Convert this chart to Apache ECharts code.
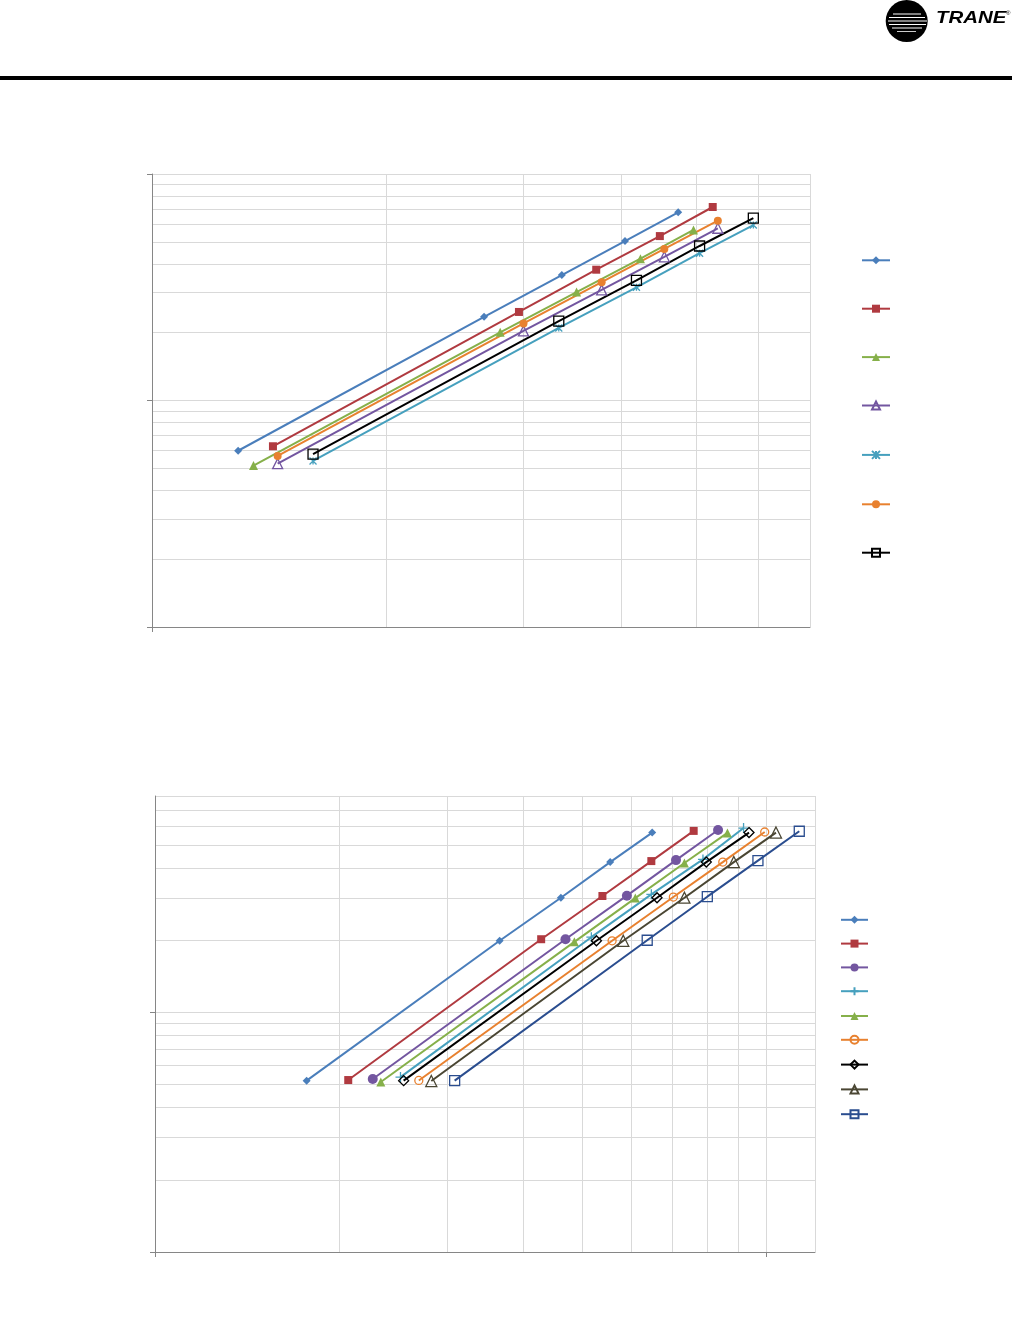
<!DOCTYPE html>
<html><head><meta charset="utf-8">
<script src="https://cdn.jsdelivr.net/npm/echarts@6/dist/echarts.min.js"></script>
<style>html,body{margin:0;padding:0;background:#fff}#c{width:1024px;height:1319px}</style>
</head><body><div id="c"></div>
<script>
// ---------- Chart 1 (top) data ----------
const c1Names = ['A1','A2','A3','A4','A5','A6','A7'];
const c1X1 = [129, 267, 336, 405, 474];   const c1Y1 = [6.0, 23.4, 35.8, 50.6, 67.7];
const c1X2 = [143, 296, 372, 449, 525];   const c1Y2 = [6.28, 24.6, 37.8, 53.2, 71.5];
const c1X3 = [135, 280, 351, 424, 496];   const c1Y3 = [5.16, 20.0, 30.1, 42.3, 56.6];
const c1X4 = [145, 300, 378, 455, 533];   const c1Y4 = [5.26, 20.3, 30.8, 43.1, 57.6];
const c1X5 = [161, 333, 419, 505, 592];   const c1Y5 = [5.41, 20.9, 31.6, 44.7, 59.5];
const c1X6 = [145, 300, 378, 455, 533];   const c1Y6 = [5.69, 21.9, 33.3, 46.7, 62.2];
const c1X7 = [161, 333, 419, 505, 592];   const c1Y7 = [5.80, 22.4, 33.9, 48.1, 63.9];
const c1XGrid = [100, 200, 300, 400, 500, 600, 700];
const c1YGrid = [1,2,3,4,5,6,7,8,9,10,20,30,40,50,60,70,80,90,100];
const c1XMajor = [100];
const c1YMajor = [1, 10, 100];

// ---------- Chart 2 (bottom) data ----------
const c2Names = ['B1','B2','B3','B4','B5','B6','B7','B8','B9'];
const c2X1 = [17.7, 36.6, 46.1, 55.5, 65.0];   const c2Y1 = [5.19, 19.9, 30.1, 42.4, 56.3];
const c2X2 = [20.7, 42.8, 53.9, 64.8, 76.0];   const c2Y2 = [5.22, 20.2, 30.6, 42.8, 57.2];
const c2X3 = [22.7, 46.9, 59.1, 71.1, 83.3];   const c2Y3 = [5.27, 20.2, 30.7, 43.2, 57.7];
const c2X4 = [25.2, 51.7, 64.8, 78.7, 91.7];   const c2Y4 = [5.37, 20.6, 31.1, 43.5, 58.8];
const c2X5 = [23.4, 48.5, 61.0, 73.4, 86.3];   const c2Y5 = [5.12, 19.7, 30.0, 42.0, 56.1];
const c2X6 = [27.0, 55.9, 70.4, 84.8, 99.3];   const c2Y6 = [5.20, 19.9, 30.3, 42.4, 56.6];
const c2X7 = [25.5, 52.7, 66.2, 79.7, 93.6];   const c2Y7 = [5.19, 19.9, 30.1, 42.4, 56.3];
const c2X8 = [28.3, 58.3, 73.4, 88.4, 103.6];  const c2Y8 = [5.17, 19.9, 30.1, 42.4, 56.3];
const c2X9 = [30.9, 63.8, 80.0, 96.8, 113.1];  const c2Y9 = [5.19, 20.0, 30.4, 43.0, 57.0];
const c2XGrid = [10,20,30,40,50,60,70,80,90,100,120];
const c2YGrid = [1,2,3,4,5,6,7,8,9,10,20,30,40,50,60,70,80];
const c2XMajor = [10, 100];
const c2YMajor = [1, 10];

const BLUE='#4A7EBB', RED='#B03A40', GREEN='#86B04A', PURPLE='#7356A0', TEAL='#46A0BE',
      ORANGE='#E8812F', BLACK='#000000', OLIVE='#4A4633', NAVY='#2A4D8F';
const STAR='path://M0,0L10,10M10,0L0,10M5,0L5,10';
const PLUS='path://M5,0L5,10M0,5L10,5';

function pairs(xs, ys){ return xs.map((x,i)=>[x, ys[i]]); }
function mk(name, xs, ys, color, symbol, size, open, gi){
  return {
    type:'line', name, xAxisIndex: gi*2, yAxisIndex: gi*2, data: pairs(xs, ys),
    symbol, symbolSize: size, showSymbol: true, showAllSymbol: true,
    lineStyle:{color, width:2},
    itemStyle: open ? {color:'rgba(0,0,0,0)', borderColor:color, borderWidth:1.3}
                    : {color, borderColor:color, borderWidth:0},
    emphasis:{disabled:true}, silent:true, z:3
  };
}
const series = [
  mk(c1Names[0], c1X1, c1Y1, BLUE,   'diamond', 8,  false, 0),
  mk(c1Names[1], c1X2, c1Y2, RED,    'rect',    8,  false, 0),
  mk(c1Names[2], c1X3, c1Y3, GREEN,  'triangle',9,  false, 0),
  mk(c1Names[3], c1X4, c1Y4, PURPLE, 'triangle',10, true,  0),
  mk(c1Names[4], c1X5, c1Y5, TEAL,   STAR,      7,  true,  0),
  mk(c1Names[5], c1X6, c1Y6, ORANGE, 'circle',  8,  false, 0),
  mk(c1Names[6], c1X7, c1Y7, BLACK,  'rect',    10, true,  0),
  mk(c2Names[0], c2X1, c2Y1, BLUE,   'diamond', 8,  false, 1),
  mk(c2Names[1], c2X2, c2Y2, RED,    'rect',    8,  false, 1),
  mk(c2Names[2], c2X3, c2Y3, PURPLE, 'circle',  10, false, 1),
  mk(c2Names[3], c2X4, c2Y4, TEAL,   PLUS,      10, true,  1),
  mk(c2Names[4], c2X5, c2Y5, GREEN,  'triangle',9,  false, 1),
  mk(c2Names[5], c2X6, c2Y6, ORANGE, 'circle',  8,  true,  1),
  mk(c2Names[6], c2X7, c2Y7, BLACK,  'diamond', 10, true,  1),
  mk(c2Names[7], c2X8, c2Y8, OLIVE,  'triangle',11, true,  1),
  mk(c2Names[8], c2X9, c2Y9, NAVY,   'rect',    10, true,  1)
];

const AX='#868686', GRIDC='#D9D9D9';
function gridAxis(gi, min, max, vals){
  return {gridIndex:gi, type:'log', logBase:10, min, max,
    axisLine:{show:false, onZero:false}, axisTick:{show:false, customValues: vals},
    axisLabel:{show:false}, splitLine:{show:true, lineStyle:{color:GRIDC, width:1}},
    minorTick:{show:false}, minorSplitLine:{show:false}};
}
function majorAxis(gi, min, max, vals, pos){
  return {gridIndex:gi, type:'log', logBase:10, min, max, position: pos,
    axisLine:{show:true, onZero:false, lineStyle:{color:AX, width:1}},
    axisTick:{show:true, inside:false, length:5, customValues: vals, lineStyle:{color:AX, width:1}},
    axisLabel:{show:false}, splitLine:{show:false}};
}

const option = {
  animation:false,
  backgroundColor:'#fff',
  grid:[
    {left:152, top:174, width:658, height:453},
    {left:155, top:796, width:660, height:456}
  ],
  xAxis:[
    gridAxis(0, 100, 700, c1XGrid), majorAxis(0, 100, 700, c1XMajor, 'bottom'),
    gridAxis(1, 10, 120, c2XGrid),  majorAxis(1, 10, 120, c2XMajor, 'bottom')
  ],
  yAxis:[
    gridAxis(0, 1, 100, c1YGrid), majorAxis(0, 1, 100, c1YMajor, 'left'),
    gridAxis(1, 1, 80, c2YGrid),  majorAxis(1, 1, 80, c2YMajor, 'left')
  ],
  legend:[
    {data:c1Names, orient:'vertical', left:861, top:255.3, itemWidth:28, itemHeight:10,
     itemGap:39.4, padding:0, selectedMode:false, formatter:()=>'', textStyle:{fontSize:6}},
    {data:c2Names, orient:'vertical', left:840, top:914.8, itemWidth:27, itemHeight:10,
     itemGap:14.8, padding:0, selectedMode:false, formatter:()=>'', textStyle:{fontSize:6}}
  ],
  graphic:[
    {type:'rect', shape:{x:0, y:76, width:1012, height:4}, style:{fill:'#000'}, silent:true},
    {type:'circle', shape:{cx:906.7, cy:21, r:21}, style:{fill:'#000'}, silent:true},
    {type:'line', shape:{x1:893, y1:14, x2:921, y2:14}, style:{stroke:'#fff', lineWidth:1}, silent:true},
    {type:'line', shape:{x1:889, y1:17.5, x2:925, y2:17.5}, style:{stroke:'#fff', lineWidth:1.2}, silent:true},
    {type:'line', shape:{x1:888, y1:21, x2:927, y2:21}, style:{stroke:'#fff', lineWidth:1.2}, silent:true},
    {type:'line', shape:{x1:889, y1:24.5, x2:926, y2:24.5}, style:{stroke:'#fff', lineWidth:1.2}, silent:true},
    {type:'line', shape:{x1:892, y1:28, x2:922, y2:28}, style:{stroke:'#fff', lineWidth:1}, silent:true},
    {type:'line', shape:{x1:897, y1:31.5, x2:916, y2:31.5}, style:{stroke:'#fff', lineWidth:0.8}, silent:true},
    {type:'text', x:936, y:27, scaleX:1.2, silent:true,
     style:{text:'TRANE', x:0, y:0, fill:'#000', font:'italic bold 17px "Liberation Sans", Arial, sans-serif', textVerticalAlign:'bottom'}},
    {type:'text', x:1006, y:10, silent:true,
     style:{text:'®', x:0, y:0, fill:'#000', font:'6px "Liberation Sans", sans-serif'}}
  ],
  series
};
const chart = echarts.init(document.getElementById('c'), null, {renderer:'canvas'});
chart.setOption(option);
</script>
</body></html>
